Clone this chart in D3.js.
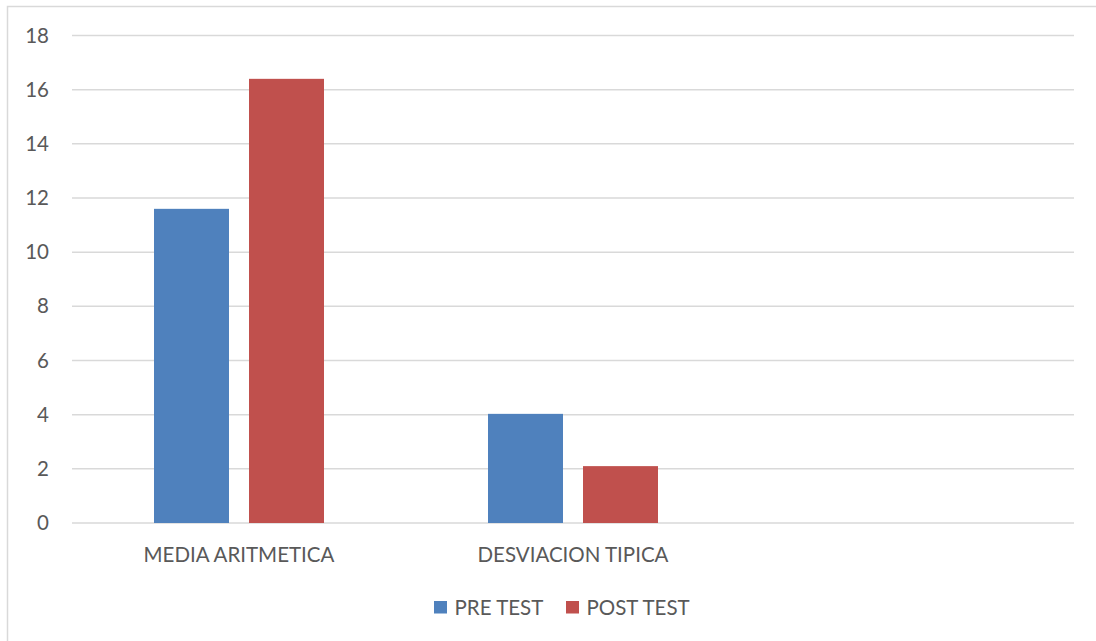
<!DOCTYPE html>
<html>
<head>
<meta charset="utf-8">
<script src="https://cdn.jsdelivr.net/npm/d3@7"></script>
<style>
  html, body { margin: 0; padding: 0; background: #fff; }
  svg { display: block; font-family: Lato, "Open Sans", sans-serif; }
</style>
</head>
<body>
<svg id="chart" width="1096" height="641"></svg>
<script>
// Categories along the x axis (the third slot is left empty)
const categories = ["MEDIA ARITMETICA", "DESVIACION TIPICA", ""];
// Series values, one per category
const seriesNames = ["PRE TEST", "POST TEST"];
const preTest = [11.6, 4.03, null];
const postTest = [16.4, 2.1, null];
const yTicks = [0, 2, 4, 6, 8, 10, 12, 14, 16, 18];
const colors = ["#4f81bd", "#c0504d"];

const svg = d3.select("#chart");
const W = 1096, H = 641;
const fontSize = 20.5;
const textColor = "#595959";

// outer chart frame
svg.append("rect")
  .attr("x", 7.5).attr("y", 6.5)
  .attr("width", W + 10).attr("height", H + 10)
  .attr("fill", "#fff").attr("stroke", "#d9d9d9").attr("stroke-width", 1.5);

const plot = { left: 72, right: 1074, top: 35.5, bottom: 523 };

const x = d3.scaleBand().domain(d3.range(categories.length))
  .range([plot.left, plot.right]).paddingInner(0).paddingOuter(0);
const y = d3.scaleLinear().domain([0, 18]).range([plot.bottom, plot.top]);

// horizontal gridlines
svg.append("g").selectAll("line").data(yTicks).join("line")
  .attr("x1", plot.left).attr("x2", plot.right)
  .attr("y1", d => y(d)).attr("y2", d => y(d))
  .attr("stroke", "#d9d9d9").attr("stroke-width", 1.5);

// y axis labels
const yAxis = d3.axisLeft(y).tickValues(yTicks).tickSize(0).tickPadding(0);
const gy = svg.append("g").attr("transform", "translate(49,0)").call(yAxis);
gy.select(".domain").remove();
gy.selectAll("text")
  .attr("font-size", fontSize).attr("fill", textColor)
  .attr("font-family", "Lato, 'Open Sans', sans-serif");

// grouped bars: two bars per category, centred in the band
const barW = 75, barGap = 20;
[preTest, postTest].forEach((vals, si) => {
  svg.append("g").selectAll("rect")
    .data(vals.map((v, i) => ({ v, i })).filter(d => d.v != null))
    .join("rect")
    .attr("x", d => x(d.i) + x.bandwidth() / 2 - (barW + barGap / 2) + si * (barW + barGap))
    .attr("width", barW)
    .attr("y", d => y(d.v))
    .attr("height", d => y(0) - y(d.v))
    .attr("fill", colors[si]);
});

// category labels
svg.append("g").selectAll("text").data(categories).join("text")
  .attr("x", (d, i) => x(i) + x.bandwidth() / 2)
  .attr("y", 561.5)
  .attr("text-anchor", "middle")
  .attr("font-size", fontSize).attr("fill", textColor)
  .text(d => d);

// legend
const legend = svg.append("g");
const legendX = [434, 566];
seriesNames.forEach((name, i) => {
  legend.append("rect")
    .attr("x", legendX[i]).attr("y", 601)
    .attr("width", 13).attr("height", 12.5)
    .attr("fill", colors[i]);
  legend.append("text")
    .attr("x", legendX[i] + 20.5).attr("y", 615)
    .attr("font-size", fontSize).attr("fill", textColor)
    .text(name);
});
</script>
</body>
</html>
